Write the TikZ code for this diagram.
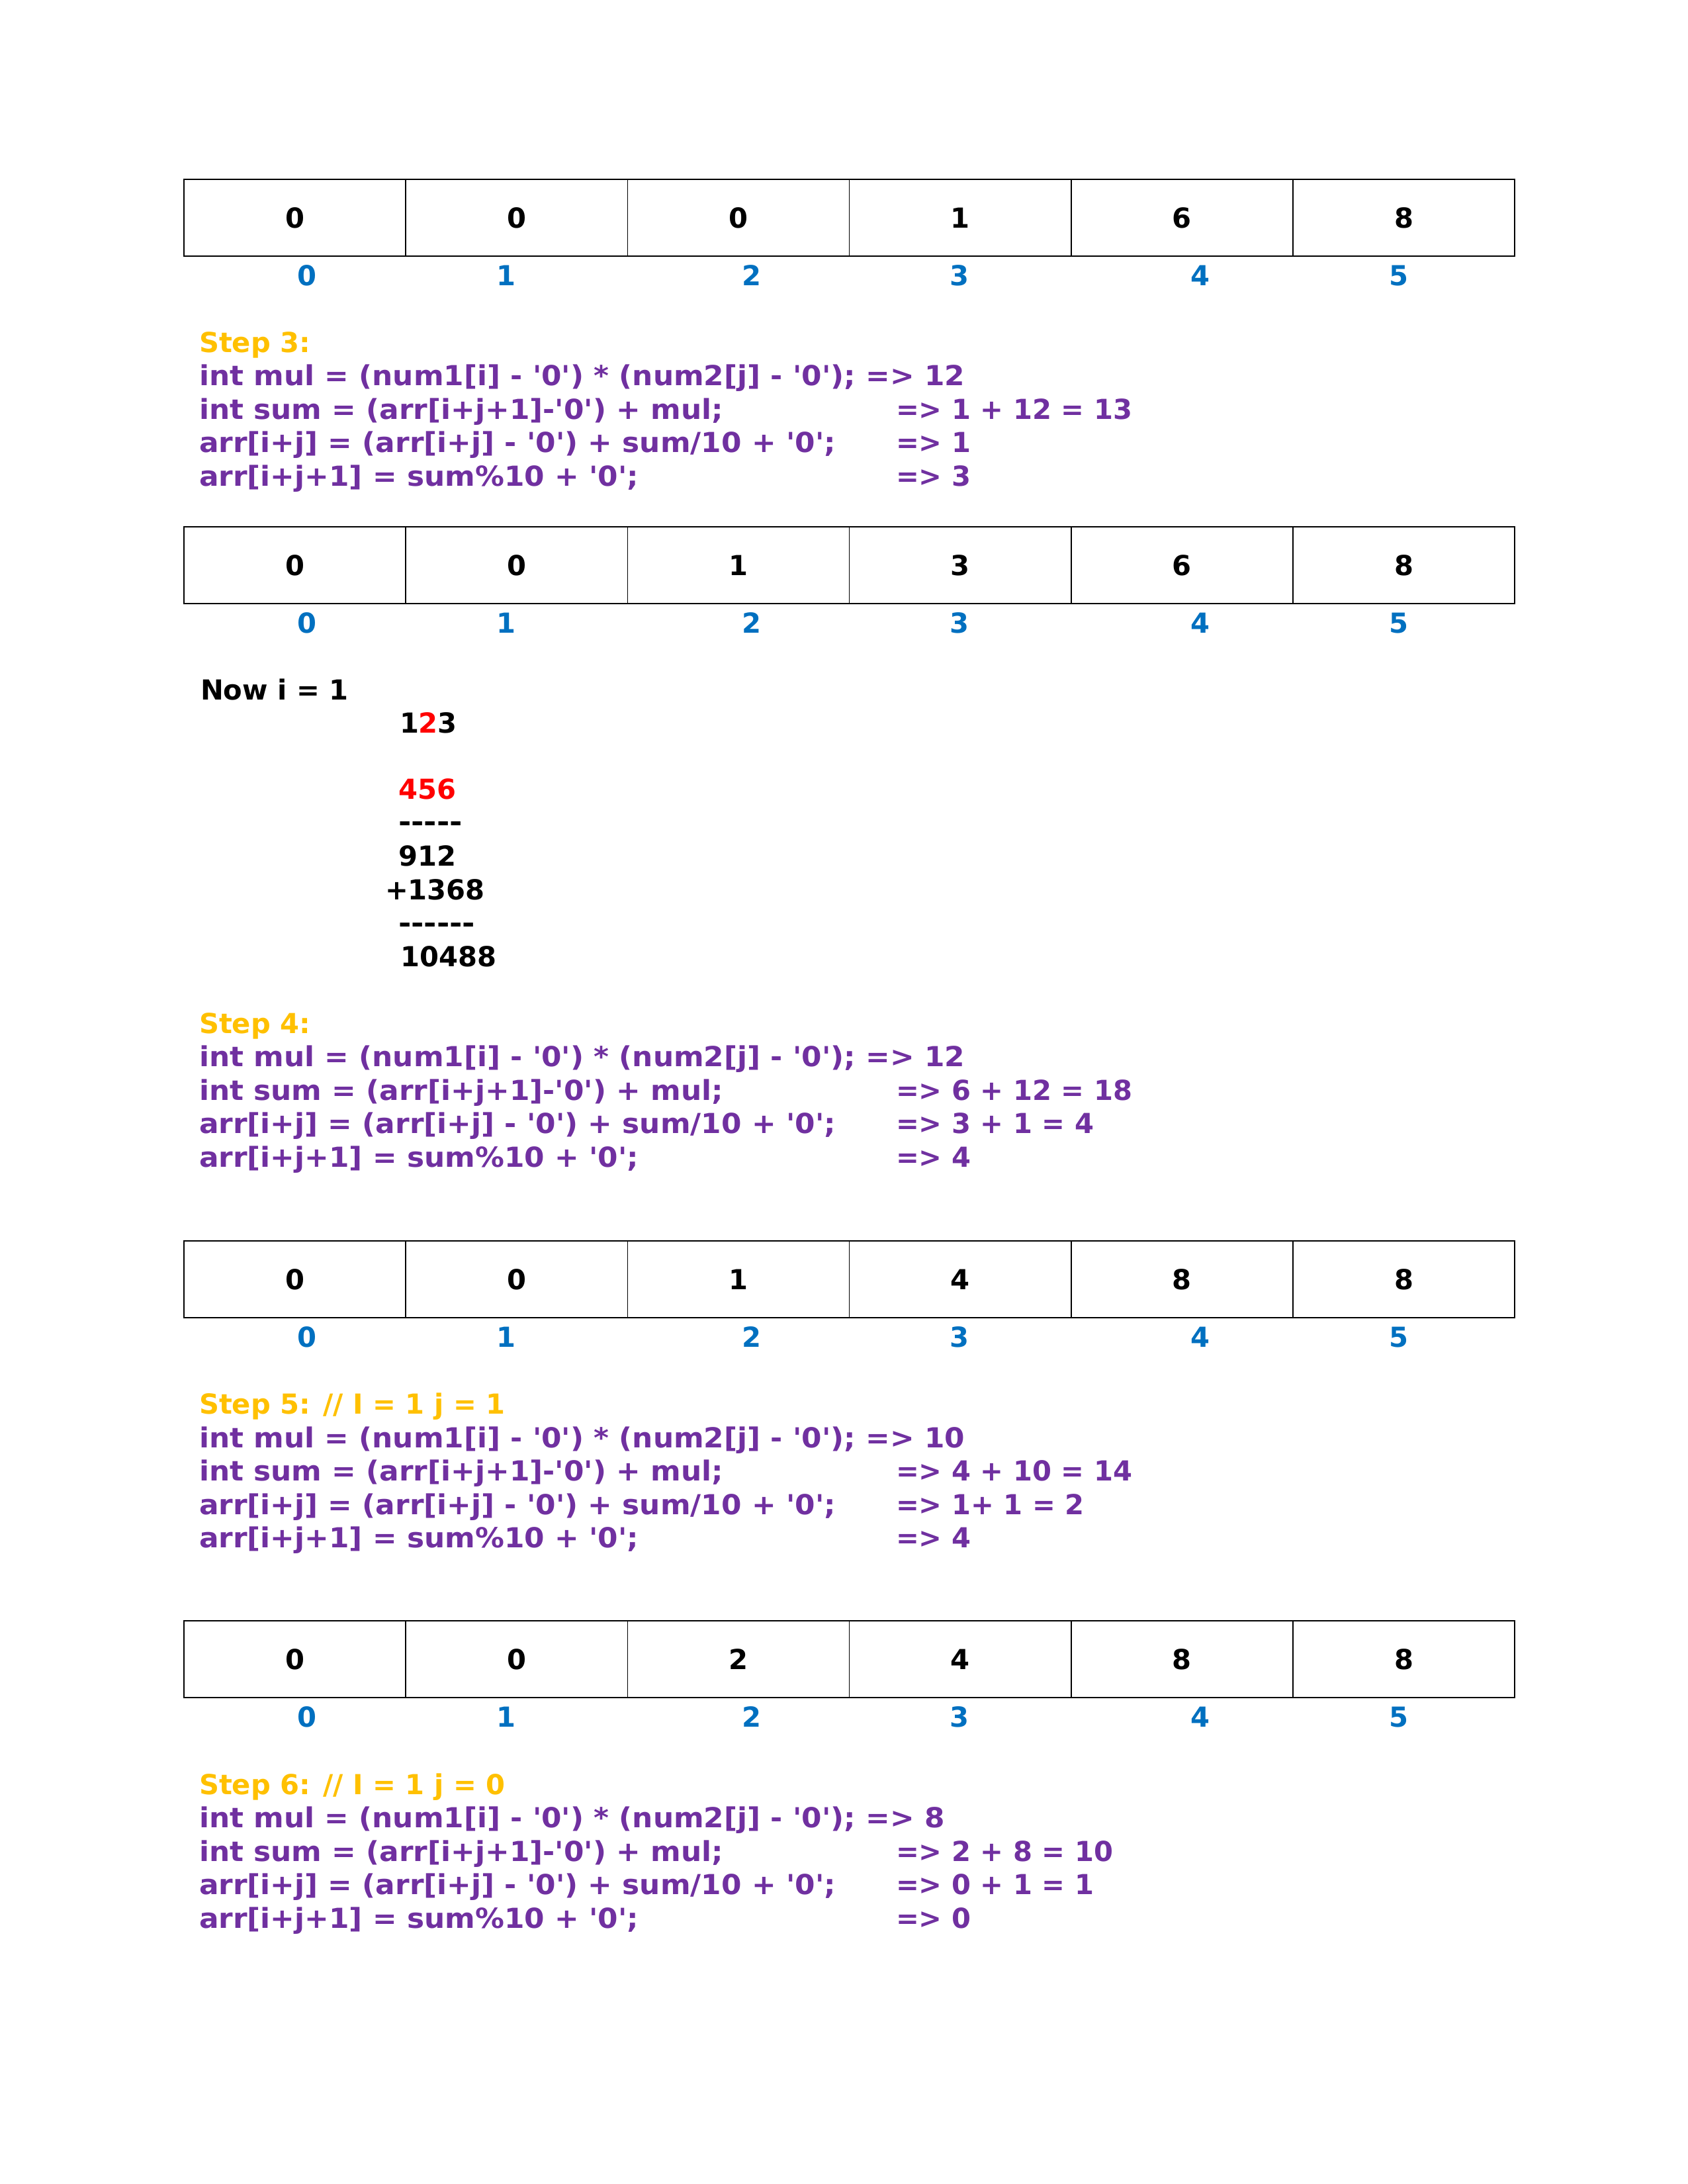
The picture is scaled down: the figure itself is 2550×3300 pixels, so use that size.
\documentclass[tikz,border=0pt]{standalone}
\usepackage{fontspec}
\setmainfont{DejaVu Sans}[Ligatures=TeXOff]
\newfontfamily\widefont{DejaVu Sans}[Ligatures=TeXOff, FakeStretch=1.052]
\newfontfamily\dashfont{DejaVu Sans}[Ligatures=TeXOff, FakeStretch=1.12]
\definecolor{stepgold}{HTML}{FFC000}
\definecolor{codepurple}{HTML}{7030A0}
\definecolor{idxblue}{HTML}{0070C0}
\definecolor{hired}{HTML}{FF0000}

\newcommand\drawarr[3]{%
  \foreach \v [count=\k from 0] in {#3} {
    \node[cell] (#1c\k) at ({445.6+335.2*\k}, {#2+58}) {\v};
  }
  \draw[outerline] (#1c0.north west) rectangle (#1c5.south east);
  \foreach \ix/\px in {0/464,1/765,2/1136,3/1450,4/1814,5/2114} {
    \node[idx] (#1i\ix) at (\px, {#2+116+44}) {\ix};
  }
}

\newcommand\stepblock[7]{%
  \node[steph] (#1h) at (301,#2) {#3};
  \node[code,wide] (#1a) at (301,{#2+50.5}) {int mul = (num1[i] - '0') * (num2[j] - '0'); => #4};
  \node[code,wide] (#1b) at (301,{#2+101}) {int sum = (arr[i+j+1]-'0') + mul;};
  \node[code] (#1br) at (1354,{#2+101}) {=> #5};
  \node[code,wide] (#1c) at (301,{#2+151.5}) {arr[i+j] = (arr[i+j] - '0') + sum/10 + '0';};
  \node[code] (#1cr) at (1354,{#2+151.5}) {=> #6};
  \node[code,wide] (#1d) at (301,{#2+202}) {arr[i+j+1] = sum\%10 + '0';};
  \node[code] (#1dr) at (1354,{#2+202}) {=> #7};
}

\begin{document}
\begin{tikzpicture}[x=0.24pt,y=-0.24pt,
  every node/.style={font=\bfseries\fontsize{10}{12}\selectfont, inner sep=0pt, outer sep=0pt},
  cell/.style={draw, line width=0.4pt, minimum width=80.448pt, minimum height=27.84pt, anchor=center},
  outerline/.style={line width=0.55pt},
  idx/.style={text=idxblue, anchor=base},
  txt/.style={anchor=base west},
  wide/.style={font=\widefont\bfseries\fontsize{10}{12}\selectfont},
  dashes/.style={font=\dashfont\bfseries\fontsize{10}{12}\selectfont},
  steph/.style={txt, text=stepgold},
  code/.style={txt, text=codepurple},
  plain/.style={txt, text=black}]
\useasboundingbox (0,0) rectangle (2550,3300);

% array states
\drawarr{ta}{271}{0,0,0,1,6,8}
\drawarr{tb}{796}{0,0,1,3,6,8}
\drawarr{tc}{1875}{0,0,1,4,8,8}
\drawarr{td}{2449}{0,0,2,4,8,8}

% step blocks
\stepblock{sa}{532}{Step 3:}{12}{1 + 12 = 13}{1}{3}
\stepblock{sb}{1561}{Step 4:}{12}{6 + 12 = 18}{3 + 1 = 4}{4}
\stepblock{sc}{2136.5}{Step 5: // I = 1 j = 1}{10}{4 + 10 = 14}{1+ 1 = 2}{4}
\stepblock{sd}{2711}{Step 6: // I = 1 j = 0}{8}{2 + 8 = 10}{0 + 1 = 1}{0}

% long multiplication
\node[plain] (nowi) at (303,1057) {Now i = 1};
\node[plain] (m1) at (604,1107) {1\textcolor{hired}{2}3};
\node[plain,text=hired] (m2) at (602,1207) {456};
\node[plain,dashes] (r1) at (602,1256) {-----};
\node[plain] (p1) at (602,1308) {912};
\node[plain] (p2) at (582,1359) {+1368};
\node[plain,dashes] (r2) at (602,1409) {------};
\node[plain] (res) at (605,1460) {10488};
\end{tikzpicture}
\end{document}
